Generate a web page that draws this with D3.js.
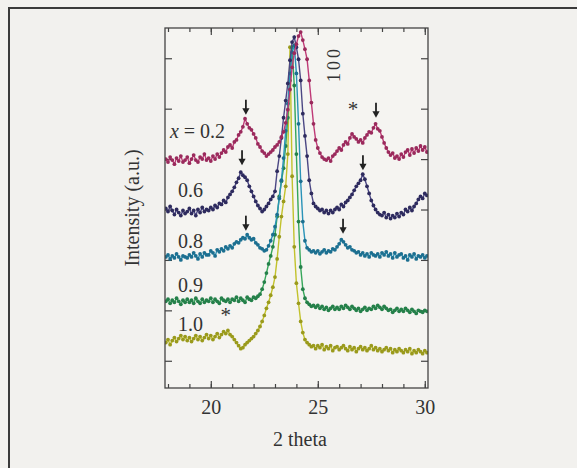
<!DOCTYPE html>
<html>
<head>
<meta charset="utf-8">
<script src="https://cdn.jsdelivr.net/npm/d3@7"></script>
<style>
  html, body { margin: 0; padding: 0; background: #f2f1ee; }
  svg { display: block; }
  text { font-family: "Liberation Serif", "DejaVu Serif", serif; fill: #333; }
</style>
</head>
<body>
<div id="chart"></div>
<script>
// 2 theta grid of the scan (0.1 deg step)
const twoTheta = d3.range(123).map(i => Math.round((17.9 + i * 0.1) * 10) / 10);

// intensities, already stacked (a.u.)
const int02 = [
  227,224,229,226,222,228,225,230,224,226,
  229,223,227,231,226,224,229,227,232,226,
  228,225,230,227,232,229,233,236,234,239,
  241,238,244,246,251,254,259,267,262,258,
  256,252,248,242,239,235,233,230,232,234,
  236,239,241,244,249,254,263,276,296,318,
  332,341,349,353,345,336,326,305,283,262,
  246,238,233,229,227,226,228,225,230,232,
  235,238,236,241,244,242,248,252,249,247,
  244,246,243,248,251,254,253,258,262,257,
  255,249,243,238,234,231,233,228,230,227,
  232,229,234,236,231,237,233,238,235,240,
  236,239,234];
const int06 = [
  178,175,180,176,172,177,174,171,176,173,
  175,178,173,176,171,177,174,179,175,177,
  176,179,177,181,179,183,182,186,184,189,
  192,195,199,204,208,214,211,209,206,200,
  195,190,185,181,178,175,177,180,183,187,
  190,195,215,230,248,268,285,302,325,343,
  348,338,326,305,272,250,230,206,193,183,
  180,178,176,177,174,176,173,176,174,177,
  179,177,182,180,184,186,189,192,196,200,
  203,206,212,207,200,193,186,181,177,174,
  172,171,174,169,172,168,171,169,173,170,
  174,172,177,175,179,176,180,183,187,190,
  188,193,191];
const int08 = [
  130,132,128,131,129,133,130,127,131,130,
  129,132,130,134,131,128,133,130,134,132,
  132,136,134,131,137,135,138,136,140,138,
  141,139,143,145,144,147,149,148,152,149,
  147,148,144,142,139,138,136,137,141,146,
  152,160,172,188,206,228,255,282,312,333,
  340,312,262,205,165,146,139,137,135,136,
  134,136,133,135,137,134,136,135,138,137,
  140,143,147,145,142,139,140,137,136,134,
  135,132,134,131,133,130,134,132,131,133,
  130,134,132,135,131,133,129,134,130,132,
  133,129,131,127,132,130,133,128,131,130,
  132,129,131];
const int09 = [
  86,88,84,87,85,89,86,83,87,85,
  88,85,87,84,89,86,84,88,85,87,
  86,89,85,88,86,84,89,87,86,88,
  85,88,87,90,86,89,87,85,90,88,
  87,90,89,91,93,98,105,114,123,131,
  140,152,170,190,205,218,240,268,305,338,
  300,232,165,120,98,89,85,83,81,82,
  80,82,79,81,78,80,77,79,81,78,
  80,78,81,79,82,80,78,81,79,77,
  79,76,78,80,77,79,78,81,79,82,
  80,78,81,79,77,78,75,77,79,76,
  78,76,79,77,75,78,76,74,77,76,
  75,77,76];
const int10 = [
  45,48,43,47,50,46,49,52,48,51,
  47,50,46,49,52,48,51,47,50,53,
  49,52,48,51,54,50,53,56,54,57,
  53,51,48,45,42,39,40,43,45,47,
  49,51,54,57,61,66,72,79,85,92,
  100,110,128,150,170,185,200,232,338,210,
  140,104,84,66,55,48,45,43,41,42,
  39,42,40,43,38,41,39,42,37,40,
  41,38,40,42,39,37,41,38,40,36,
  39,41,38,40,37,39,42,38,40,37,
  39,36,38,40,37,39,35,38,36,39,
  37,35,38,36,39,34,37,35,38,36,
  34,37,35];

const compositions = ["0.2", "0.6", "0.8", "0.9", "1.0"];
const intensities = [int02, int06, int08, int09, int10];
const lineColors = ["#bf3a77", "#4b4784", "#2a93b8", "#36a65a", "#c2c22c"];
const dotColors = ["#9a2a5c", "#2e2b5e", "#1c6f90", "#25804a", "#9a9a1c"];

// label anchors (2 theta, intensity)
const labelTheta = [18.09, 18.47, 18.47, 18.47, 18.47];
const labelLevel = [248, 189, 139, 95, 57];

// arrows mark the extra reflections: [2 theta, intensity at tip]
const arrows = [[21.64, 271], [27.72, 268], [21.46, 221], [27.11, 216], [21.64, 156], [26.18, 153]];
const stars = [[26.64, 270], [20.7, 65]];

const xMajor = [20, 25, 30];
const xMinor = d3.range(18, 31);
const yTicks = [27, 77, 127, 177, 227, 277, 327];

const width = 577;
const height = 468;
const plot = { left: 165, right: 428, top: 28, bottom: 388 };

const svg = d3.select("#chart").append("svg")
    .attr("width", width)
    .attr("height", height);

svg.append("rect")
    .attr("width", width).attr("height", height)
    .attr("fill", "#f2f1ee");

// outer border of the figure box
svg.append("rect")
    .attr("x", 9).attr("y", 8)
    .attr("width", 620).attr("height", 520)
    .attr("fill", "none")
    .attr("stroke", "#3a3a3a")
    .attr("stroke-width", 2);

const x = d3.scaleLinear().domain([17.86, 30.15]).range([plot.left, plot.right]);
const y = d3.scaleLinear().domain([0, 357]).range([plot.bottom, plot.top]);

svg.append("defs").append("clipPath").attr("id", "clip")
  .append("rect")
    .attr("x", plot.left).attr("y", plot.top)
    .attr("width", plot.right - plot.left)
    .attr("height", plot.bottom - plot.top);

svg.append("rect")
    .attr("x", plot.left).attr("y", plot.top)
    .attr("width", plot.right - plot.left)
    .attr("height", plot.bottom - plot.top)
    .attr("fill", "#f5f4f1");

// axes, ticks pointing inwards
function styleAxis(g) {
    g.select(".domain").remove();
    g.selectAll(".tick line").attr("stroke", "#444").attr("stroke-width", 1.2);
    g.selectAll("text").attr("font-size", 20).attr("fill", "#333")
        .attr("font-family", "Liberation Serif, serif");
}

svg.append("g")
    .attr("transform", `translate(0,${plot.bottom})`)
    .call(d3.axisBottom(x).tickValues(xMinor).tickSize(-4).tickFormat(""))
    .call(styleAxis);
svg.append("g")
    .attr("transform", `translate(0,${plot.bottom})`)
    .call(d3.axisBottom(x).tickValues(xMajor).tickSize(-7).tickPadding(12).tickFormat(d3.format("d")))
    .call(styleAxis);
svg.append("g")
    .attr("transform", `translate(0,${plot.top})`)
    .call(d3.axisTop(x).tickValues(xMinor).tickSize(-4).tickFormat(""))
    .call(styleAxis);
svg.append("g")
    .attr("transform", `translate(0,${plot.top})`)
    .call(d3.axisTop(x).tickValues(xMajor).tickSize(-7).tickFormat(""))
    .call(styleAxis);
svg.append("g")
    .attr("transform", `translate(${plot.left},0)`)
    .call(d3.axisLeft(y).tickValues(yTicks).tickSize(-7).tickFormat(""))
    .call(styleAxis);
svg.append("g")
    .attr("transform", `translate(${plot.right},0)`)
    .call(d3.axisRight(y).tickValues(yTicks).tickSize(-7).tickFormat(""))
    .call(styleAxis);

// curves, bottom one drawn first
const line = d3.line()
    .x((d, i) => x(twoTheta[i]))
    .y(d => y(d));

const curves = svg.append("g").attr("clip-path", "url(#clip)");
for (let k = intensities.length - 1; k >= 0; k--) {
    const g = curves.append("g");
    g.append("path")
        .datum(intensities[k])
        .attr("d", line)
        .attr("fill", "none")
        .attr("stroke", lineColors[k])
        .attr("stroke-width", 1.4);
    g.selectAll("circle")
        .data(intensities[k])
        .enter().append("circle")
        .attr("cx", (d, i) => x(twoTheta[i]))
        .attr("cy", d => y(d))
        .attr("r", 1.9)
        .attr("fill", dotColors[k]);
}

svg.append("rect")
    .attr("x", plot.left).attr("y", plot.top)
    .attr("width", plot.right - plot.left)
    .attr("height", plot.bottom - plot.top)
    .attr("fill", "none")
    .attr("stroke", "#444")
    .attr("stroke-width", 1.3);

// composition labels
compositions.forEach((c, k) => {
    const t = svg.append("text")
        .attr("x", x(labelTheta[k]))
        .attr("y", y(labelLevel[k]))
        .attr("font-size", 20);
    if (k === 0) {
        t.append("tspan").attr("font-style", "italic").text("x");
        t.append("tspan").text(" = " + c);
    } else {
        t.text(c);
    }
});

// arrows
const arrowG = svg.append("g");
arrows.forEach(([t, v]) => {
    const ax = x(t), ay = y(v);
    arrowG.append("line")
        .attr("x1", ax).attr("x2", ax)
        .attr("y1", ay - 15).attr("y2", ay - 5)
        .attr("stroke", "#222").attr("stroke-width", 1.8);
    arrowG.append("path")
        .attr("d", `M${ax - 3.6},${ay - 6.5}L${ax + 3.6},${ay - 6.5}L${ax},${ay}Z`)
        .attr("fill", "#222");
});

stars.forEach(([t, v]) => {
    svg.append("text")
        .attr("x", x(t)).attr("y", y(v))
        .attr("text-anchor", "middle")
        .attr("font-size", 21)
        .attr("fill", "#666")
        .text("*");
});

svg.append("text")
    .attr("transform", `translate(340,64) rotate(-90)`)
    .attr("text-anchor", "middle")
    .attr("font-size", 18)
    .attr("letter-spacing", 3)
    .text("100");

svg.append("text")
    .attr("x", 300).attr("y", 446)
    .attr("text-anchor", "middle")
    .attr("font-size", 20)
    .text("2 theta");

svg.append("text")
    .attr("transform", `translate(139,${(plot.top + plot.bottom) / 2}) rotate(-90)`)
    .attr("text-anchor", "middle")
    .attr("font-size", 20)
    .text("Intensity (a.u.)");
</script>
</body>
</html>
